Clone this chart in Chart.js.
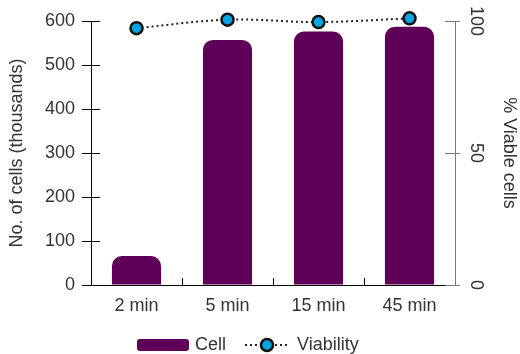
<!DOCTYPE html>
<html>
<head>
<meta charset="utf-8">
<script src="https://cdn.jsdelivr.net/npm/chart.js@4"></script>
<style>
html, body { margin: 0; padding: 0; background: #fff; }
</style>
</head>
<body>
<canvas id="myChart" width="520" height="354"></canvas>
<script>
const labels = ["2 min", "5 min", "15 min", "45 min"];
const cellCounts = [66, 557, 576, 587];
const viability = [97.3, 100.5, 99.6, 101];
const leftTicks = [0, 100, 200, 300, 400, 500, 600];
const rightTicks = [0, 50, 100];

const purple = "#5e0058";
const blue = "#00a6e4";
const FONT = "'Liberation Sans', Arial, sans-serif";
const textColor = "#333";

// inner tick marks, rotated right labels and the legend
const extras = {
    id: "extras",
    afterDraw(chart) {
        const ctx = chart.ctx;
        const x = chart.scales.x, y = chart.scales.y, y1 = chart.scales.y1;
        const area = chart.chartArea;
        ctx.save();
        ctx.lineWidth = 1;
        ctx.strokeStyle = "#000";
        leftTicks.forEach(v => {
            const py = Math.round(y.getPixelForValue(v)) + 0.5;
            ctx.beginPath();
            ctx.moveTo(area.left, py);
            ctx.lineTo(area.left + 9, py);
            ctx.stroke();
        });
        for (let i = 0; i < labels.length - 1; i++) {
            const px = Math.round((x.getPixelForValue(i) + x.getPixelForValue(i + 1)) / 2) + 0.5;
            ctx.beginPath();
            ctx.moveTo(px, area.bottom);
            ctx.lineTo(px, area.bottom - 7);
            ctx.stroke();
        }
        ctx.strokeStyle = "#777";
        rightTicks.forEach(v => {
            const py = Math.round(y1.getPixelForValue(v)) + 0.5;
            ctx.beginPath();
            ctx.moveTo(area.right, py);
            ctx.lineTo(area.right - 10, py);
            ctx.stroke();
        });
        ctx.fillStyle = textColor;
        ctx.font = "18px " + FONT;
        ctx.textAlign = "center";
        ctx.textBaseline = "middle";
        rightTicks.forEach(v => {
            const py = y1.getPixelForValue(v);
            ctx.save();
            ctx.translate(area.right + 21, py);
            ctx.rotate(Math.PI / 2);
            ctx.fillText(String(v), 0, 0);
            ctx.restore();
        });

        // legend
        const ly = 345;
        ctx.fillStyle = purple;
        ctx.beginPath();
        ctx.roundRect(137, ly - 6, 52, 12, 3);
        ctx.fill();
        ctx.fillStyle = textColor;
        ctx.textAlign = "left";
        ctx.fillText(chart.data.datasets[0].label, 195, ly);
        ctx.strokeStyle = "#222";
        ctx.lineWidth = 2;
        ctx.setLineDash([2, 3]);
        ctx.beginPath();
        ctx.moveTo(245, ly);
        ctx.lineTo(290, ly);
        ctx.stroke();
        ctx.setLineDash([]);
        ctx.fillStyle = blue;
        ctx.lineWidth = 2.5;
        ctx.strokeStyle = "#111";
        ctx.beginPath();
        ctx.arc(267, ly, 6, 0, Math.PI * 2);
        ctx.fill();
        ctx.stroke();
        ctx.fillStyle = textColor;
        ctx.fillText(chart.data.datasets[1].label, 297, ly);
        ctx.restore();
    }
};

const ctx = document.getElementById("myChart");
new Chart(ctx, {
    type: "bar",
    data: {
        labels,
        datasets: [{
            type: "bar",
            label: "Cell",
            data: cellCounts,
            yAxisID: "y",
            backgroundColor: purple,
            borderRadius: {topLeft: 10, topRight: 10, bottomLeft: 0, bottomRight: 0},
            borderSkipped: false,
            barPercentage: 0.54,
            categoryPercentage: 1,
            order: 1
        }, {
            type: "line",
            label: "Viability",
            data: viability,
            yAxisID: "y1",
            borderColor: "#222",
            borderWidth: 2,
            borderDash: [2, 3],
            tension: 0.35,
            pointRadius: 6,
            pointBackgroundColor: blue,
            pointBorderColor: "#111",
            pointBorderWidth: 2.5,
            clip: false,
            order: 0
        }]
    },
    options: {
        responsive: false,
        animation: false,
        devicePixelRatio: 1,
        layout: {padding: {top: 21, left: 0, right: 0, bottom: 0}},
        plugins: {
            legend: {display: false},
            tooltip: {enabled: false}
        },
        scales: {
            x: {
                grid: {drawOnChartArea: false, drawTicks: false},
                border: {color: "#000", width: 1},
                ticks: {font: {family: FONT, size: 18}, color: textColor, padding: 10},
                afterFit: s => { s.height = 69; }
            },
            y: {
                position: "left",
                min: 0,
                max: 600,
                ticks: {stepSize: 100, font: {family: FONT, size: 18}, color: textColor, padding: 7},
                grid: {drawOnChartArea: false, tickLength: 9, color: "#000"},
                border: {color: "#000", width: 1},
                title: {
                    display: true,
                    text: "No. of cells (thousands)",
                    font: {family: FONT, size: 18},
                    color: textColor,
                    padding: {top: 6, bottom: 0}
                },
                afterFit: s => { s.width = 91; }
            },
            y1: {
                position: "right",
                min: 0,
                max: 100,
                ticks: {stepSize: 50, display: false},
                grid: {drawOnChartArea: false, tickLength: 5, color: "#777"},
                border: {color: "#777", width: 1},
                title: {
                    display: true,
                    text: "% Viable cells",
                    font: {family: FONT, size: 18},
                    color: textColor,
                    padding: {top: 0, bottom: 0}
                },
                afterFit: s => { s.width = 65; }
            }
        }
    },
    plugins: [extras]
});
</script>
</body>
</html>
